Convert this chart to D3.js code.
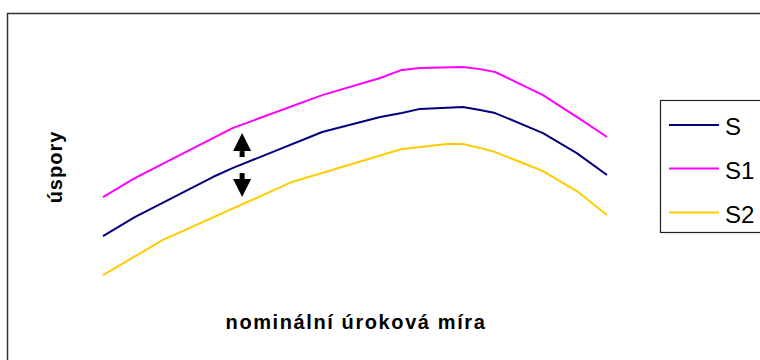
<!DOCTYPE html>
<html>
<head>
<meta charset="utf-8">
<script src="https://cdn.jsdelivr.net/npm/d3@7/dist/d3.min.js"></script>
<style>
  html, body { margin: 0; padding: 0; background: #fff; }
  svg { display: block; }
</style>
</head>
<body>
<script>
// ---- data (x: nominal interest rate, relative units; y: savings, relative units)
const seriesNames = ["S", "S1", "S2"];
const seriesColors = ["#000080", "#FF00FF", "#FFCC00"];

const sX  = [0, 6.3, 21.8, 25.8, 43.5, 55.0, 59.3, 62.9, 71.4, 74.8, 77.8, 87.3, 94.0, 100];
const sY  = [24.6, 31.9, 47.3, 50.8, 64.6, 70.4, 71.9, 73.5, 74.2, 73.1, 71.9, 64.2, 56.5, 48.1];

const s1X = [0, 6.3, 25.8, 43.5, 55.0, 59.3, 62.9, 71.4, 74.8, 77.8, 87.3, 94.0, 100];
const s1Y = [39.6, 46.9, 66.2, 78.8, 85.4, 88.5, 89.2, 89.6, 88.8, 87.7, 78.8, 70.4, 62.7];

const s2X = [0, 11.9, 37.5, 59.3, 68.3, 71.4, 74.8, 77.8, 87.3, 94.0, 100];
const s2Y = [9.6, 23.1, 45.4, 58.1, 60.0, 60.0, 58.5, 56.9, 49.6, 41.9, 32.7];

// shift arrows (annotation): x, from-y, to-y (tip)
const arrowX = [27.6, 27.6];
const arrowFrom = [55.0, 48.8];
const arrowTo = [64.2, 39.6];

const xTitle = "nominální úroková míra";
const yTitle = "úspory";

// ---- layout
const W = 760, H = 360;
const svg = d3.select("body").append("svg").attr("width", W).attr("height", H);

const x = d3.scaleLinear().domain([0, 100]).range([103, 607]);
const y = d3.scaleLinear().domain([0, 100]).range([300, 40]);

// outer chart border (extends beyond view at right/bottom)
svg.append("rect")
  .attr("x", 7.5).attr("y", 13.5).attr("width", 820).attr("height", 420)
  .attr("fill", "none").attr("stroke", "#333").attr("stroke-width", 1.5);

const series = [
  {name: seriesNames[0], color: seriesColors[0], pts: sX.map((v, i) => [v, sY[i]])},
  {name: seriesNames[1], color: seriesColors[1], pts: s1X.map((v, i) => [v, s1Y[i]])},
  {name: seriesNames[2], color: seriesColors[2], pts: s2X.map((v, i) => [v, s2Y[i]])}
];

const line = d3.line().x(d => x(d[0])).y(d => y(d[1]));

svg.selectAll("path.series").data(series).join("path")
  .attr("class", "series")
  .attr("d", d => line(d.pts))
  .attr("fill", "none")
  .attr("stroke", d => d.color)
  .attr("stroke-width", 2)
  .attr("stroke-linejoin", "round");

// arrows
const ag = svg.append("g");
arrowX.forEach((ax, i) => {
  const px = x(ax), p0 = y(arrowFrom[i]), p1 = y(arrowTo[i]);
  const dir = p1 < p0 ? -1 : 1;
  const headLen = 18, headHalf = 9;
  const baseY = p1 - dir * headLen;
  ag.append("line")
    .attr("x1", px).attr("y1", p0).attr("x2", px).attr("y2", baseY)
    .attr("stroke", "#000").attr("stroke-width", 5);
  ag.append("path")
    .attr("d", `M${px},${p1} L${px - headHalf},${baseY} L${px + headHalf},${baseY} Z`)
    .attr("fill", "#000");
});

// axis titles
svg.append("text")
  .attr("x", 356).attr("y", 329)
  .attr("text-anchor", "middle")
  .attr("font-family", "Liberation Sans, Arial, sans-serif")
  .attr("font-weight", "bold")
  .attr("font-size", 20)
  .attr("letter-spacing", 1.6)
  .text(xTitle);

svg.append("text")
  .attr("transform", "translate(62,167) rotate(-90)")
  .attr("text-anchor", "middle")
  .attr("font-family", "Liberation Sans, Arial, sans-serif")
  .attr("font-weight", "bold")
  .attr("font-size", 20)
  .attr("letter-spacing", 1)
  .text(yTitle);

// legend
const lg = svg.append("g");
lg.append("rect")
  .attr("x", 660.5).attr("y", 100.5).attr("width", 140).attr("height", 132)
  .attr("fill", "#fff").attr("stroke", "#222").attr("stroke-width", 1.2);
const legendY = [125, 168.5, 212.5];
series.forEach((s, i) => {
  lg.append("line")
    .attr("x1", 669).attr("x2", 719)
    .attr("y1", legendY[i]).attr("y2", legendY[i])
    .attr("stroke", s.color).attr("stroke-width", 2);
  lg.append("text")
    .attr("x", 725).attr("y", legendY[i] + 10)
    .attr("font-family", "Liberation Sans, Arial, sans-serif")
    .attr("font-size", 24)
    .attr("fill", "#000")
    .text(s.name);
});
</script>
</body>
</html>
